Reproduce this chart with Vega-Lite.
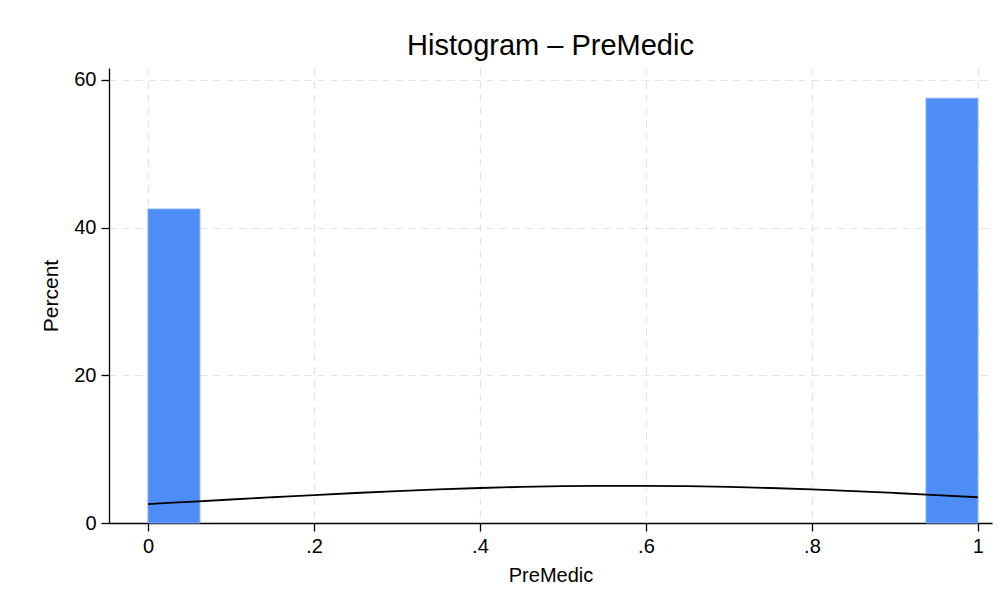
{
  "$schema": "https://vega.github.io/schema/vega-lite/v6.json",
  "width": 883,
  "height": 455,
  "autosize": "none",
  "padding": {"left": 109, "top": 68, "right": 10, "bottom": 83},
  "background": "white",
  "title": {
    "text": "Histogram – PreMedic",
    "font": "Liberation Sans",
    "fontSize": 29,
    "fontWeight": "normal",
    "color": "black",
    "anchor": "middle",
    "offset": 7
  },
  "datasets": {
    "bars": [
      {"bin_start": 0, "bin_end": 0.0625, "percent": 42.5},
      {"bin_start": 0.9375, "bin_end": 1, "percent": 57.5}
    ],
    "curve": [
      {"x": 0, "y": 2.564},
      {"x": 0.05, "y": 2.870},
      {"x": 0.1, "y": 3.179},
      {"x": 0.15, "y": 3.485},
      {"x": 0.2, "y": 3.783},
      {"x": 0.25, "y": 4.064},
      {"x": 0.3, "y": 4.321},
      {"x": 0.35, "y": 4.548},
      {"x": 0.4, "y": 4.738},
      {"x": 0.45, "y": 4.885},
      {"x": 0.5, "y": 4.987},
      {"x": 0.55, "y": 5.037},
      {"x": 0.6, "y": 5.037},
      {"x": 0.65, "y": 4.987},
      {"x": 0.7, "y": 4.885},
      {"x": 0.75, "y": 4.738},
      {"x": 0.8, "y": 4.548},
      {"x": 0.85, "y": 4.321},
      {"x": 0.9, "y": 4.064},
      {"x": 0.95, "y": 3.783},
      {"x": 1.0, "y": 3.485}
    ]
  },
  "config": {
    "view": {"stroke": null},
    "axis": {
      "labelFont": "Liberation Sans",
      "titleFont": "Liberation Sans",
      "labelFontSize": 20,
      "titleFontSize": 20,
      "titleFontWeight": "normal",
      "labelColor": "black",
      "titleColor": "black",
      "domainColor": "black",
      "domainWidth": 1.3,
      "tickColor": "black",
      "tickWidth": 1.3,
      "gridColor": "#e3e3e3",
      "gridDash": [7, 6],
      "gridWidth": 1.2
    }
  },
  "layer": [
    {
      "data": {"name": "bars"},
      "mark": {"type": "rect", "color": "#4e8df6", "stroke": "#7aaaf8", "strokeWidth": 1},
      "encoding": {
        "x": {
          "field": "bin_start",
          "type": "quantitative",
          "scale": {"domain": [-0.047, 1.017], "nice": false, "zero": false},
          "axis": {
            "title": "PreMedic",
            "values": [0, 0.2, 0.4, 0.6, 0.8, 1],
            "labelExpr": "datum.value == 0 ? '0' : datum.value == 1 ? '1' : '.' + round(datum.value * 10)",
            "tickSize": 8,
            "labelPadding": 5,
            "titlePadding": 9,
            "grid": true,
            "labelFlush": false
          }
        },
        "x2": {"field": "bin_end"},
        "y": {
          "field": "percent",
          "type": "quantitative",
          "scale": {"domain": [0, 61.6], "nice": false},
          "axis": {
            "title": "Percent",
            "titleFontSize": 21,
            "values": [0, 20, 40, 60],
            "tickSize": 8,
            "labelPadding": 5,
            "titlePadding": 12,
            "grid": true
          }
        },
        "y2": {"datum": 0}
      }
    },
    {
      "data": {"name": "curve"},
      "mark": {"type": "line", "color": "black", "strokeWidth": 1.8, "interpolate": "monotone"},
      "encoding": {
        "x": {"field": "x", "type": "quantitative"},
        "y": {"field": "y", "type": "quantitative"}
      }
    }
  ]
}
